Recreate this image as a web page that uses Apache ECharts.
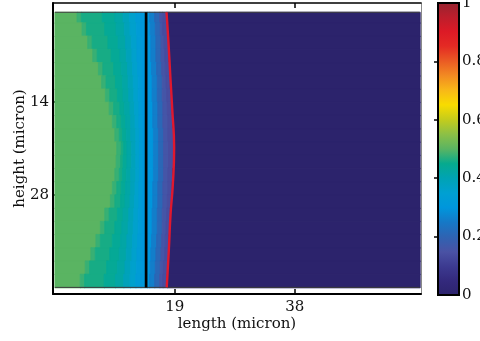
<!DOCTYPE html>
<html>
<head>
<meta charset="utf-8">
<script src="https://cdn.jsdelivr.net/npm/echarts@6/dist/echarts.min.js"></script>
<style>
  html, body { margin: 0; padding: 0; background: #fff; }
  #chart { width: 480px; height: 341px; }
</style>
</head>
<body>
<div id="chart"></div>
<script>
// Concentration field: each row (a band in height) is split into bands along length.
// rowEdges: height limits of the rows (micron)
const rowEdges = [0.4, 2, 4, 6, 8, 10, 12, 14, 16, 18, 20, 22, 24, 26, 28, 30, 32, 34, 36, 38, 40, 42];
// value of each band, left to right; the last band (0) runs to the right edge
const bandValues = [0.50, 0.48, 0.46, 0.44, 0.42, 0.39, 0.36, 0.33, 0.31, 0.30, 0.26, 0.21, 0.16, 0.14, 0];
// start of each band along length (micron), one list per row
const rowBreaks = [
  [0, 3.5, 4.2, 7.5, 9.5, 10.8, 11.8, 12.8, 13.6, 14.6, 15.0, 15.8, 16.6, 17.0, 17.7],
  [0, 4.3, 5.0, 7.9, 9.7, 11.0, 11.9, 12.9, 13.6, 14.6, 15.1, 15.9, 16.7, 17.1, 17.9],
  [0, 5.2, 5.9, 8.4, 10.0, 11.2, 12.1, 13.0, 13.7, 14.6, 15.2, 16.0, 16.8, 17.3, 18.0],
  [0, 6.0, 6.7, 8.9, 10.3, 11.3, 12.2, 13.0, 13.7, 14.6, 15.2, 16.0, 16.8, 17.4, 18.1],
  [0, 6.9, 7.6, 9.3, 10.5, 11.5, 12.3, 13.1, 13.8, 14.6, 15.3, 16.1, 16.9, 17.5, 18.2],
  [0, 7.4, 8.1, 9.6, 10.7, 11.6, 12.4, 13.2, 13.8, 14.6, 15.4, 16.2, 17.0, 17.6, 18.3],
  [0, 8.0, 8.7, 9.9, 10.8, 11.7, 12.5, 13.2, 13.8, 14.6, 15.4, 16.2, 17.0, 17.7, 18.5],
  [0, 8.6, 9.3, 10.3, 11.0, 11.9, 12.6, 13.3, 13.8, 14.6, 15.5, 16.3, 17.1, 17.8, 18.6],
  [0, 9.1, 9.8, 10.5, 11.2, 12.0, 12.7, 13.3, 13.9, 14.6, 15.5, 16.3, 17.1, 17.9, 18.7],
  [0, 9.5, 10.2, 10.7, 11.3, 12.0, 12.8, 13.4, 13.9, 14.6, 15.6, 16.4, 17.2, 17.9, 18.8],
  [0, 9.8, 10.5, 10.9, 11.4, 12.1, 12.8, 13.4, 13.9, 14.6, 15.6, 16.4, 17.2, 18.0, 18.9],
  [0, 9.7, 10.4, 10.8, 11.4, 12.1, 12.8, 13.4, 13.9, 14.6, 15.6, 16.4, 17.2, 18.0, 18.8],
  [0, 9.5, 10.2, 10.7, 11.3, 12.0, 12.8, 13.4, 13.9, 14.6, 15.6, 16.4, 17.2, 17.9, 18.7],
  [0, 9.1, 9.8, 10.5, 11.2, 12.0, 12.7, 13.3, 13.9, 14.6, 15.5, 16.3, 17.1, 17.9, 18.6],
  [0, 8.8, 9.5, 10.4, 11.1, 11.9, 12.6, 13.3, 13.8, 14.6, 15.5, 16.3, 17.1, 17.8, 18.5],
  [0, 7.9, 8.6, 9.9, 10.8, 11.7, 12.5, 13.2, 13.8, 14.6, 15.4, 16.2, 17.0, 17.7, 18.3],
  [0, 7.2, 7.9, 9.5, 10.6, 11.6, 12.4, 13.2, 13.8, 14.6, 15.4, 16.2, 17.0, 17.6, 18.2],
  [0, 6.5, 7.2, 9.1, 10.4, 11.4, 12.3, 13.1, 13.7, 14.6, 15.3, 16.1, 16.9, 17.5, 18.1],
  [0, 5.7, 6.4, 8.7, 10.2, 11.3, 12.2, 13.0, 13.7, 14.6, 15.2, 16.0, 16.8, 17.4, 18.0],
  [0, 4.8, 5.5, 8.2, 9.9, 11.1, 12.0, 12.9, 13.7, 14.6, 15.1, 15.9, 16.7, 17.2, 17.9],
  [0, 4.0, 4.7, 7.8, 9.6, 10.9, 11.9, 12.8, 13.6, 14.6, 15.0, 15.8, 16.6, 17.1, 17.8]
];
const fieldRight = 57.8;          // right end of the computed field (micron)

// interface (black) at fixed length, moving front (red) along height
const interfaceX = 14.45;
const frontY = [0.4, 4.6, 10.6, 15.2, 20.9, 26.5, 31.0, 36.4, 42.0];
const frontX = [17.69, 17.97, 18.32, 18.60, 18.89, 18.68, 18.32, 18.05, 17.72];

// axis ticks
const xTicks = [19, 38];
const yTicks = [14, 28];
const cbarTicks = [0, 0.2, 0.4, 0.6, 0.8, 1];

// colormap, evenly spaced from 0 to 1
const cmap = [
  '#2c236c', '#33297c', '#3c3a90', '#4a52a4', '#2f63b2', '#1678c6', '#0096dc',
  '#00a0d2', '#00a3b4', '#06aa8e', '#5ab462', '#8cc046', '#c4cc1c', '#f8dc00',
  '#f8b818', '#f28a22', '#ea5a24', '#e42a24', '#dc1a26', '#bc1e2c', '#962430'
];

// build cells [x0, x1, y0, y1, value]
const cells = [];
rowBreaks.forEach((br, i) => {
  for (let j = 0; j < br.length; j++) {
    const x1 = j + 1 < br.length ? br[j + 1] : fieldRight;
    cells.push([br[j], x1, rowEdges[i], rowEdges[i + 1], bandValues[j]]);
  }
});
const yTop = rowEdges[0], yBot = rowEdges[rowEdges.length - 1];

const serif = 'DejaVu Serif';
const txt = { fontFamily: serif, fontSize: 15, color: '#111' };

const chart = echarts.init(document.getElementById('chart'), null, { renderer: 'canvas' });
chart.setOption({
  animation: false,
  backgroundColor: '#fff',
  grid: [
    { left: 53, right: 59, top: 3, bottom: 47, outerBoundsMode: 'none', containLabel: false },
    { left: 438, width: 21, top: 3, bottom: 46, outerBoundsMode: 'none', containLabel: false }
  ],
  xAxis: [
    {
      gridIndex: 0, type: 'value', min: -0.3, max: 58, position: 'bottom',
      name: 'length (micron)', nameLocation: 'middle', nameGap: 23, nameMoveOverlap: false,
      nameTextStyle: txt,
      axisLine: { show: true, onZero: false, lineStyle: { color: '#000', width: 2 } },
      axisTick: { show: true, inside: true, length: 5, customValues: xTicks, lineStyle: { color: '#000', width: 1.5 } },
      axisLabel: { show: true, margin: 6, customValues: xTicks, ...txt },
      splitLine: { show: false }
    },
    {
      gridIndex: 0, type: 'value', min: -0.3, max: 58, position: 'top',
      axisLine: { show: true, onZero: false, lineStyle: { color: '#000', width: 1.5 } },
      axisTick: { show: true, inside: true, length: 5, customValues: xTicks, lineStyle: { color: '#000', width: 1.5 } },
      axisLabel: { show: false },
      splitLine: { show: false }
    },
    { gridIndex: 1, type: 'value', min: 0, max: 1, show: false }
  ],
  yAxis: [
    {
      gridIndex: 0, type: 'value', min: -1, max: 43, inverse: true, position: 'left',
      name: 'height (micron)', nameLocation: 'middle', nameGap: 25, nameRotate: 90, nameMoveOverlap: false,
      nameTextStyle: txt,
      axisLine: { show: true, onZero: false, lineStyle: { color: '#000', width: 2 } },
      axisTick: { show: true, inside: true, length: 5, customValues: yTicks, lineStyle: { color: '#000', width: 1.5 } },
      axisLabel: { show: true, margin: 4, customValues: yTicks, ...txt },
      splitLine: { show: false }
    },
    {
      gridIndex: 0, type: 'value', min: -1, max: 43, inverse: true, position: 'right',
      axisLine: { show: true, onZero: false, lineStyle: { color: '#8a8a8a', width: 1 } },
      axisTick: { show: false }, axisLabel: { show: false }, splitLine: { show: false }
    },
    {
      gridIndex: 1, type: 'value', min: 0, max: 1, position: 'right',
      axisLine: { show: false },
      axisTick: { show: true, inside: true, length: 4, customValues: [0.2, 0.4, 0.6, 0.8], lineStyle: { color: '#000', width: 1.5 } },
      axisLabel: { show: true, margin: 3, customValues: cbarTicks, ...txt },
      splitLine: { show: false }
    },
    {
      gridIndex: 1, type: 'value', min: 0, max: 1, position: 'left',
      axisLine: { show: false },
      axisTick: { show: true, inside: true, length: 4, customValues: [0.2, 0.4, 0.6, 0.8], lineStyle: { color: '#000', width: 1.5 } },
      axisLabel: { show: false }, splitLine: { show: false }
    }
  ],
  visualMap: {
    show: false, type: 'continuous', min: 0, max: 1, dimension: 4, seriesIndex: 0,
    inRange: { color: cmap }
  },
  series: [
    {
      type: 'custom', xAxisIndex: 0, yAxisIndex: 0,
      data: cells,
      encode: { x: [0, 1], y: [2, 3] },
      renderItem: function (params, api) {
        const a = api.coord([api.value(0), api.value(2)]);
        const b = api.coord([api.value(1), api.value(3)]);
        const x = Math.min(a[0], b[0]), y = Math.min(a[1], b[1]);
        const c = api.visual('color');
        return {
          type: 'rect',
          shape: { x: x, y: y, width: Math.abs(b[0] - a[0]) + 0.5, height: Math.abs(b[1] - a[1]) + 0.5 },
          style: { fill: c, stroke: c, lineWidth: 0.8 }
        };
      }
    },
    {
      // thin edges at top and bottom of the field
      type: 'custom', xAxisIndex: 0, yAxisIndex: 0,
      data: [[0, fieldRight, yTop], [0, fieldRight, yBot]],
      encode: { x: [0, 1], y: 2 },
      renderItem: function (params, api) {
        const a = api.coord([api.value(0), api.value(2)]);
        const b = api.coord([api.value(1), api.value(2)]);
        return {
          type: 'line',
          shape: { x1: a[0], y1: a[1], x2: b[0], y2: b[1] },
          style: { stroke: '#3c3c3c', lineWidth: 1 }
        };
      }
    },
    {
      type: 'line', xAxisIndex: 0, yAxisIndex: 0,
      data: [[interfaceX, yTop], [interfaceX, yBot]],
      symbol: 'none', lineStyle: { color: '#000', width: 2.7 }
    },
    {
      type: 'line', xAxisIndex: 0, yAxisIndex: 0,
      data: frontY.map((y, i) => [frontX[i], y]),
      smooth: 0.5, symbol: 'none', lineStyle: { color: '#e0182e', width: 2.4 }
    },
    {
      // colour bar
      type: 'custom', xAxisIndex: 2, yAxisIndex: 2,
      data: [[0, 0, 1, 1]],
      encode: { x: [0, 2], y: [1, 3] },
      renderItem: function (params, api) {
        const a = api.coord([0, 0]);
        const b = api.coord([1, 1]);
        const stops = cmap.map((c, i) => ({ offset: i / (cmap.length - 1), color: c }));
        return {
          type: 'rect',
          shape: { x: a[0], y: b[1], width: b[0] - a[0], height: a[1] - b[1] },
          style: {
            fill: new echarts.graphic.LinearGradient(0, 1, 0, 0, stops),
            stroke: '#000', lineWidth: 2
          }
        };
      }
    }
  ]
});
</script>
</body>
</html>
